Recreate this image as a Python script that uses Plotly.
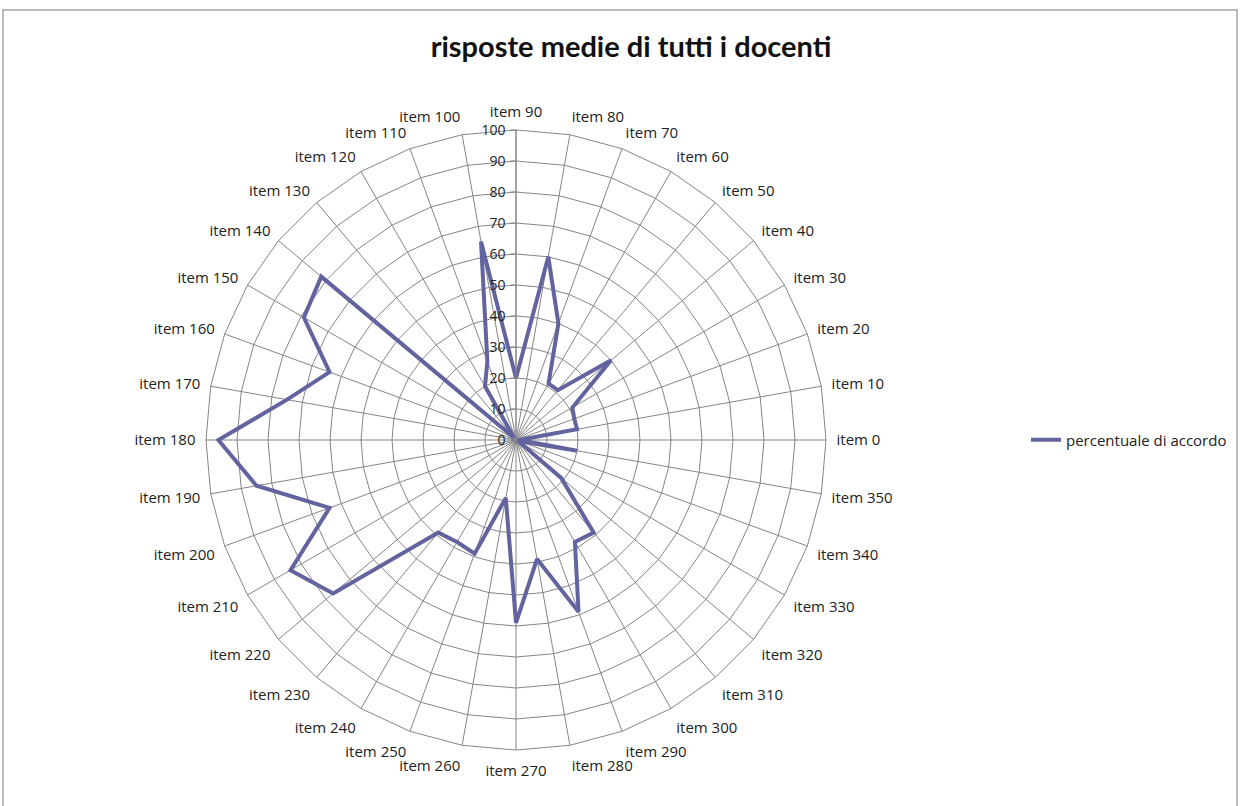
import plotly.graph_objects as go

categories = ["item %d" % a for a in range(0, 360, 10)]
values = [1, 20, 20, 21, 40, 21, 21, 40, 60, 20,
          65, 27, 20, 1, 82, 79, 64, 75, 96, 85,
          64, 84, 77, 39, 38, 39, 19, 59, 39, 59,
          38, 39, 19, 1, 1, 20]
series_name = "percentuale di accordo"
title_text = "risposte medie di tutti i docenti"
radial_ticks = list(range(0, 101, 10))

W, H = 1240, 806
cx, cy, R = 516, 440, 310

fig = go.Figure()
fig.add_trace(go.Scatterpolar(
    r=values + [values[0]],
    theta=categories + [categories[0]],
    mode="lines",
    name=series_name,
    line=dict(color="#63649f", width=4),
    showlegend=True,
))

grid = "#858585"
fig.update_layout(
    width=W, height=H,
    margin=dict(l=0, r=0, t=0, b=0),
    paper_bgcolor="white",
    font=dict(family="Open Sans", color="#222"),
    title=dict(text="<b>%s</b>" % title_text, x=631 / W, xanchor="center",
               y=1 - 47 / H, yanchor="middle",
               font=dict(family="Lato", size=29, color="#111")),
    showlegend=True,
    legend=dict(x=1026 / W, y=1 - 440 / H, xanchor="left", yanchor="middle",
                font=dict(family="Open Sans", size=15, color="#222"),
                bgcolor="rgba(0,0,0,0)"),
    polar=dict(
        domain=dict(x=[(cx - R) / W, (cx + R) / W],
                    y=[1 - (cy + R) / H, 1 - (cy - R) / H]),
        gridshape="linear",
        bgcolor="white",
        angularaxis=dict(
            direction="counterclockwise", rotation=0,
            type="category",
            showline=True, linecolor=grid, linewidth=1,
            showgrid=True, gridcolor=grid, gridwidth=1,
            ticks="outside", ticklen=7, tickcolor="rgba(0,0,0,0)",
            tickfont=dict(size=15, color="#222"),
        ),
        radialaxis=dict(
            range=[0, 100], tickvals=radial_ticks, angle=90, tickangle=90,
            side="counterclockwise",
            showline=True, linecolor=grid, linewidth=1,
            showgrid=True, gridcolor=grid, gridwidth=1,
            ticks="outside", ticklen=5, tickcolor=grid,
            tickfont=dict(size=14, color="#222"),
        ),
    ),
    shapes=[dict(type="rect", xref="paper", yref="paper",
                 x0=3 / W, x1=1 - 3 / W, y0=-0.02, y1=1 - 10 / H,
                 line=dict(color="#bbbbbb", width=2), layer="below")],
)

fig.write_html("out.html", config={"displayModeBar": False},
               post_script="document.body.style.margin='0px';")
